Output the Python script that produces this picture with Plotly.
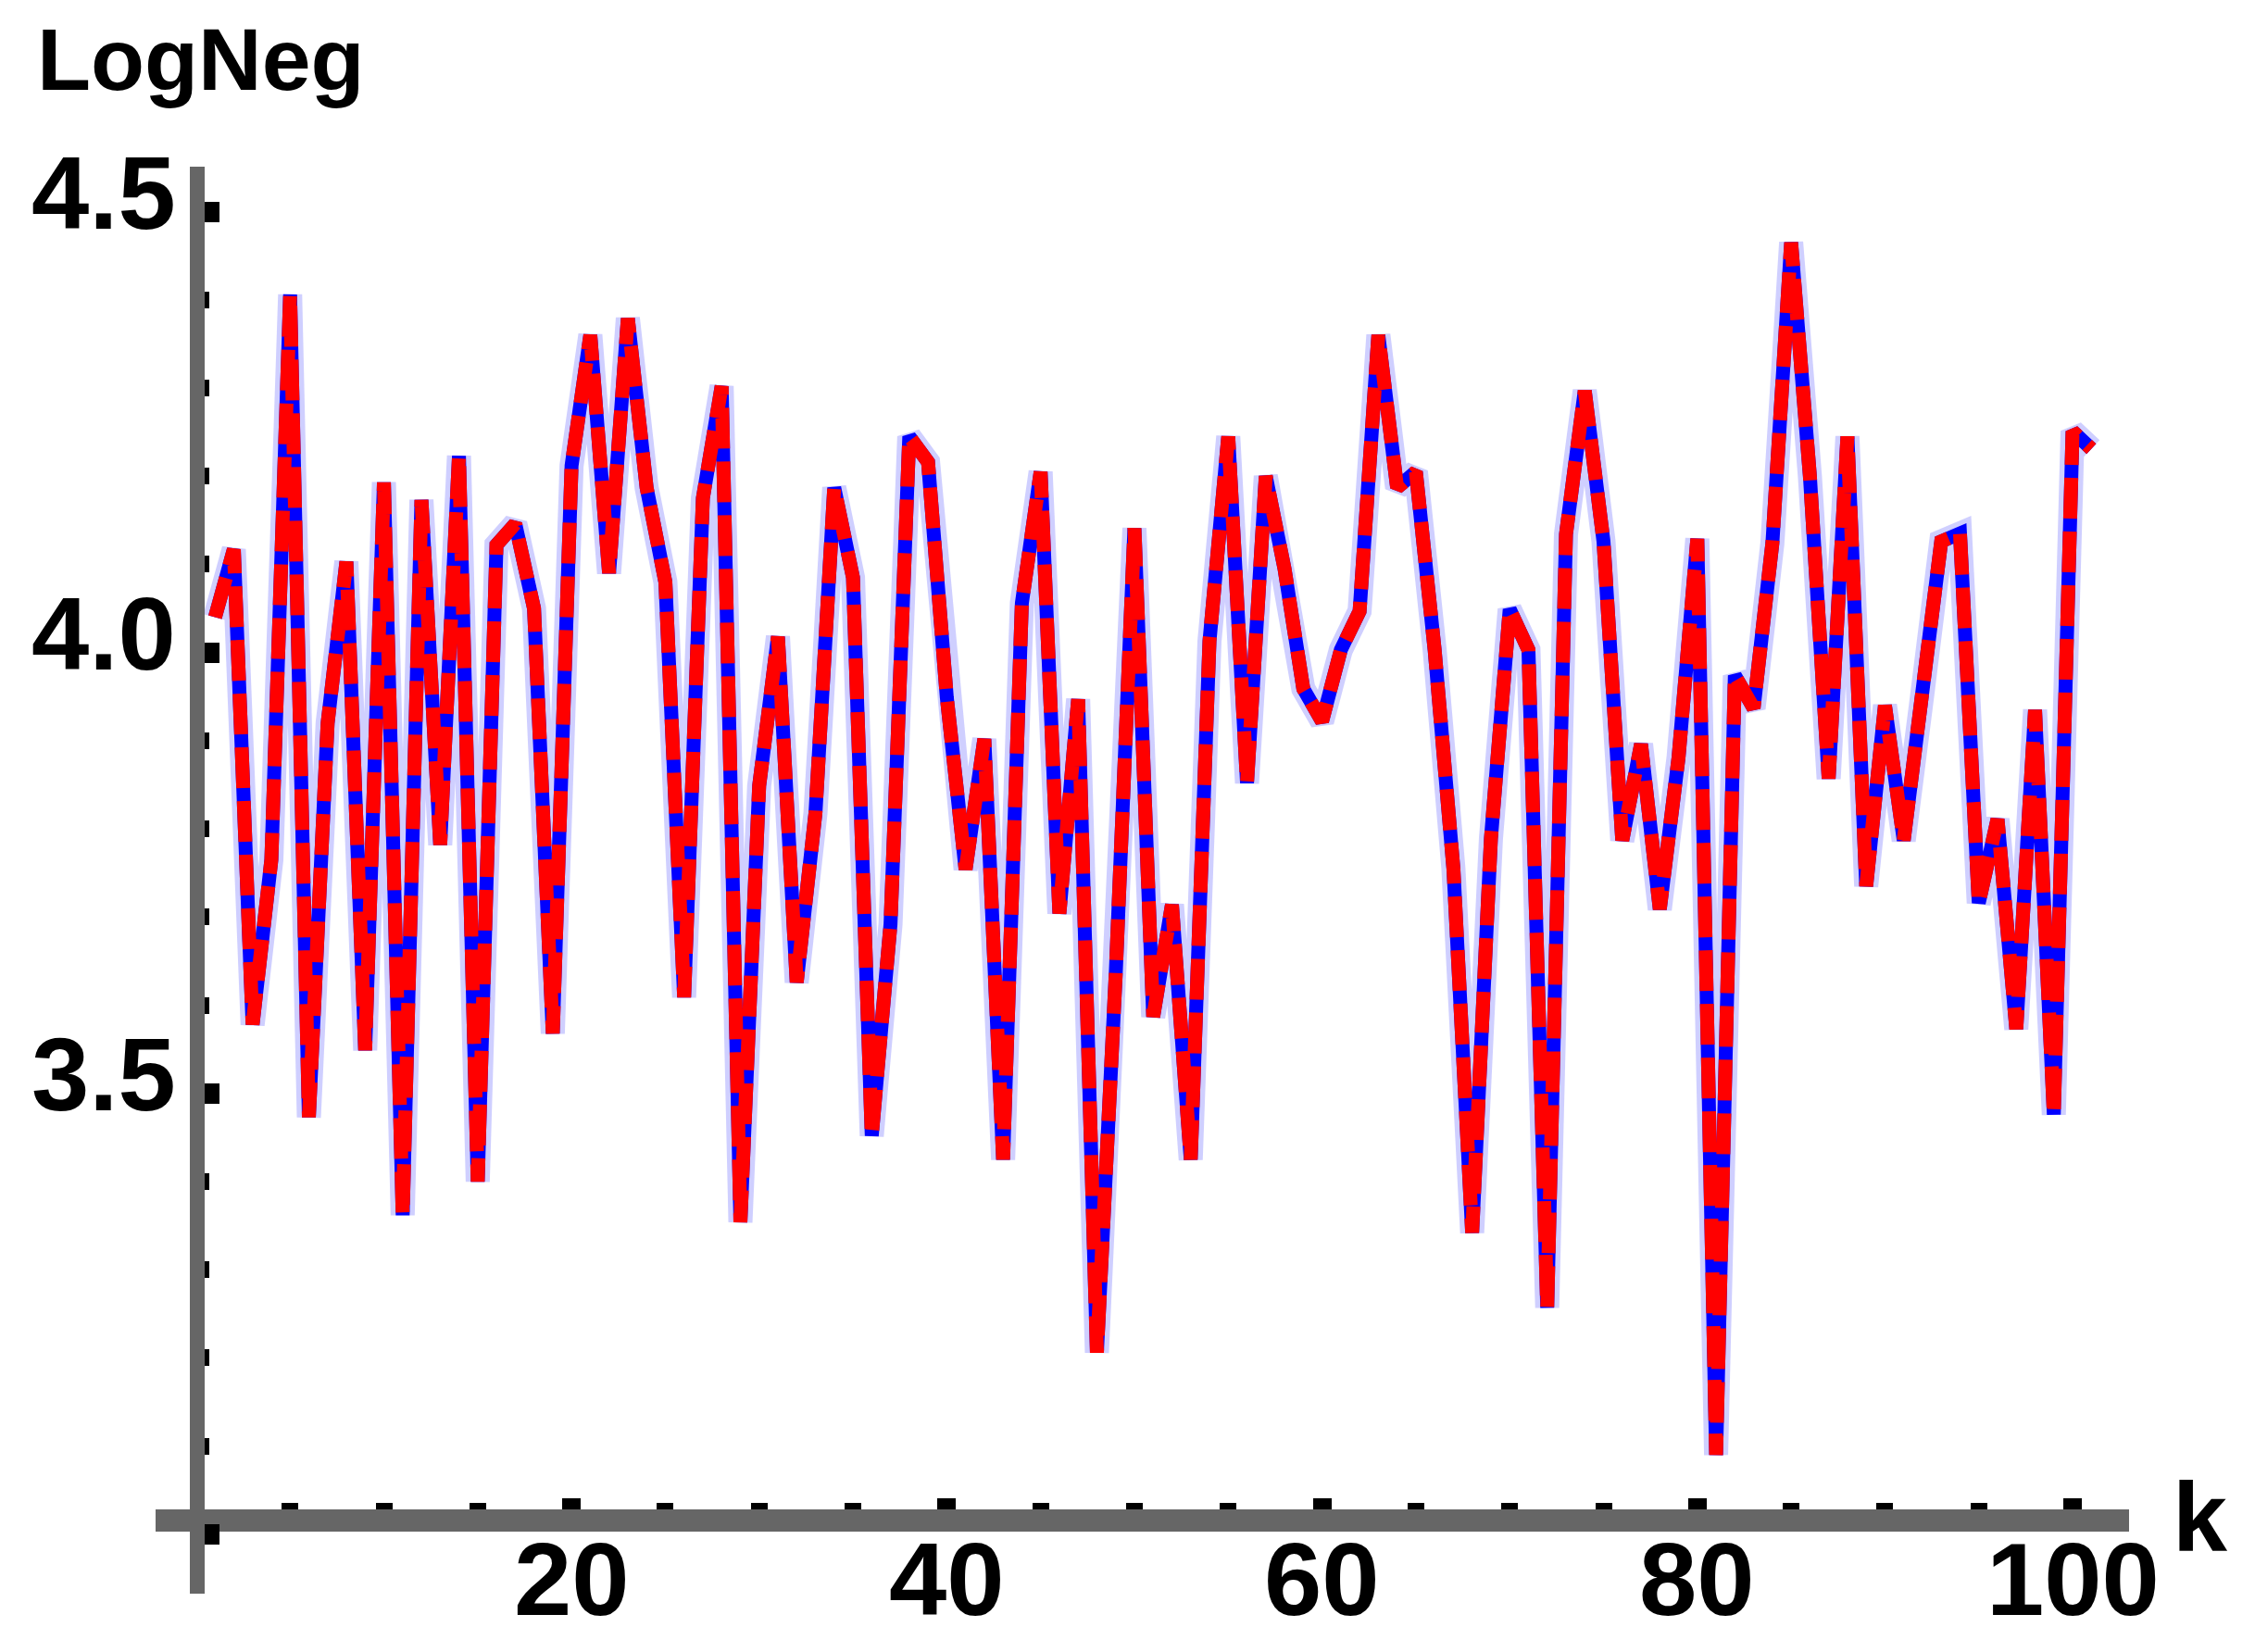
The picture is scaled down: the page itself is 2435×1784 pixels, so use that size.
import plotly.graph_objects as go

# ---- data ----
k_values = list(range(1, 102))
logneg = [
    4.04, 4.117, 3.578, 3.765, 4.406, 3.473, 3.92, 4.103, 3.549, 4.193,
    3.362, 4.173, 3.782, 4.223, 3.40, 4.122, 4.146, 4.05, 3.568, 4.212,
    4.36, 4.09, 4.379, 4.187, 4.08, 3.609, 4.175, 4.302, 3.354, 3.849,
    4.018, 3.626, 3.818, 4.187, 4.085, 3.452, 3.692, 4.245, 4.216, 3.949,
    3.754, 3.902, 3.425, 4.056, 4.205, 3.704, 3.947, 3.206, 3.634, 4.141,
    3.587, 3.714, 3.425, 4.013, 4.245, 3.852, 4.20, 4.095, 3.959, 3.922,
    4.003, 4.047, 4.36, 4.187, 4.205, 4.003, 3.755, 3.342, 3.789, 4.049,
    4.003, 3.257, 4.134, 4.297, 4.126, 3.787, 3.896, 3.709, 3.881, 4.129,
    3.09, 3.974, 3.937, 4.124, 4.465, 4.2, 3.857, 4.245, 3.735, 3.94,
    3.787, 3.954, 4.126, 4.135, 3.716, 3.811, 3.573, 3.935, 3.476, 4.251,
    4.231,
]

x_major_ticks = [20, 40, 60, 80, 100]
x_major_text = ["20", "40", "60", "80", "100"]
x_minor_ticks = [5, 10, 15, 25, 30, 35, 45, 50, 55, 65, 70, 75, 85, 90, 95]
y_major_ticks = [3.0, 3.5, 4.0, 4.5]
y_major_text = ["", "3.5", "4.0", "4.5"]
y_minor_ticks = [3.1, 3.2, 3.3, 3.4, 3.6, 3.7, 3.8, 3.9, 4.1, 4.2, 4.3, 4.4]

x_range = [-2.17, 103.01]
y_range = [2.9327, 4.551]
x_axis_at_y = 3.0157   # where the horizontal axis crosses
y_axis_at_x = 0.05     # where the vertical axis crosses

FONT = "Liberation Sans, Arial, sans-serif"
AXIS_GREY = "#666666"
TICK_FONT_SIZE = 112

W, H = 2435, 1784
M_L, M_R, M_T, M_B = 160, 144, 172, 71
PLOT_W = W - M_L - M_R
PLOT_H = H - M_T - M_B


def paper_x(px):
    return (px - M_L) / PLOT_W


def paper_y(py):
    return (H - M_B - py) / PLOT_H


fig = go.Figure()

# soft halo
fig.add_trace(go.Scatter(x=k_values, y=logneg, mode="lines",
                         line=dict(color="rgba(110,110,255,0.33)", width=26),
                         hoverinfo="skip", showlegend=False))
# blue curve
fig.add_trace(go.Scatter(x=k_values, y=logneg, mode="lines",
                         line=dict(color="#0000FF", width=15),
                         showlegend=False))
# red dashed curve on top
fig.add_trace(go.Scatter(x=k_values, y=logneg, mode="lines",
                         line=dict(color="#FF0000", width=15, dash="44px,14px"),
                         showlegend=False))

x_pos = (x_axis_at_y - y_range[0]) / (y_range[1] - y_range[0])
y_pos = (y_axis_at_x - x_range[0]) / (x_range[1] - x_range[0])

tick_font = dict(family=FONT, size=TICK_FONT_SIZE, color="black", weight="bold")

annotations = [
    dict(text="LogNeg", xref="paper", yref="paper",
         x=paper_x(30), y=paper_y(56),
         xanchor="left", yanchor="middle", showarrow=False,
         font=dict(family=FONT, size=95, color="black", weight="bold")),
    dict(text="k", xref="paper", yref="paper",
         x=paper_x(2336), y=paper_y(1630),
         xanchor="left", yanchor="middle", showarrow=False,
         font=dict(family=FONT, size=106, color="black", weight="bold")),
]
# x tick labels (under the free-floating x axis)
for val, txt in zip(x_major_ticks, x_major_text):
    annotations.append(dict(
        text=txt, xref="x", yref="paper", x=val, y=paper_y(1697),
        xanchor="center", yanchor="middle", showarrow=False, font=tick_font))
# y tick labels (left of the free-floating y axis, slightly raised)
for val, txt in zip(y_major_ticks, y_major_text):
    if txt:
        annotations.append(dict(
            text=txt, xref="paper", yref="y", x=paper_x(184), y=val,
            xanchor="right", yanchor="middle", yshift=20, showarrow=False,
            font=tick_font))

fig.update_layout(
    width=W, height=H,
    margin=dict(l=M_L, r=M_R, t=M_T, b=M_B),
    paper_bgcolor="white", plot_bgcolor="white",
    showlegend=False,
    xaxis=dict(
        range=x_range, anchor="free", position=x_pos, automargin=False,
        showline=True, linecolor=AXIS_GREY, linewidth=24,
        showgrid=False, zeroline=False,
        tickmode="array", tickvals=x_major_ticks, showticklabels=False,
        ticks="inside", ticklen=12, tickwidth=20, tickcolor="black",
        minor=dict(tickmode="array", tickvals=x_minor_ticks, ticks="inside",
                   ticklen=7, tickwidth=18, tickcolor="black", showgrid=False),
    ),
    yaxis=dict(
        range=y_range, anchor="free", position=y_pos, automargin=False,
        showline=True, linecolor=AXIS_GREY, linewidth=16,
        showgrid=False, zeroline=False,
        tickmode="array", tickvals=y_major_ticks, showticklabels=False,
        ticks="inside", ticklen=16, tickwidth=22, tickcolor="black",
        minor=dict(tickmode="array", tickvals=y_minor_ticks, ticks="inside",
                   ticklen=5, tickwidth=18, tickcolor="black", showgrid=False),
    ),
    annotations=annotations,
)

fig.write_html("out.html")
